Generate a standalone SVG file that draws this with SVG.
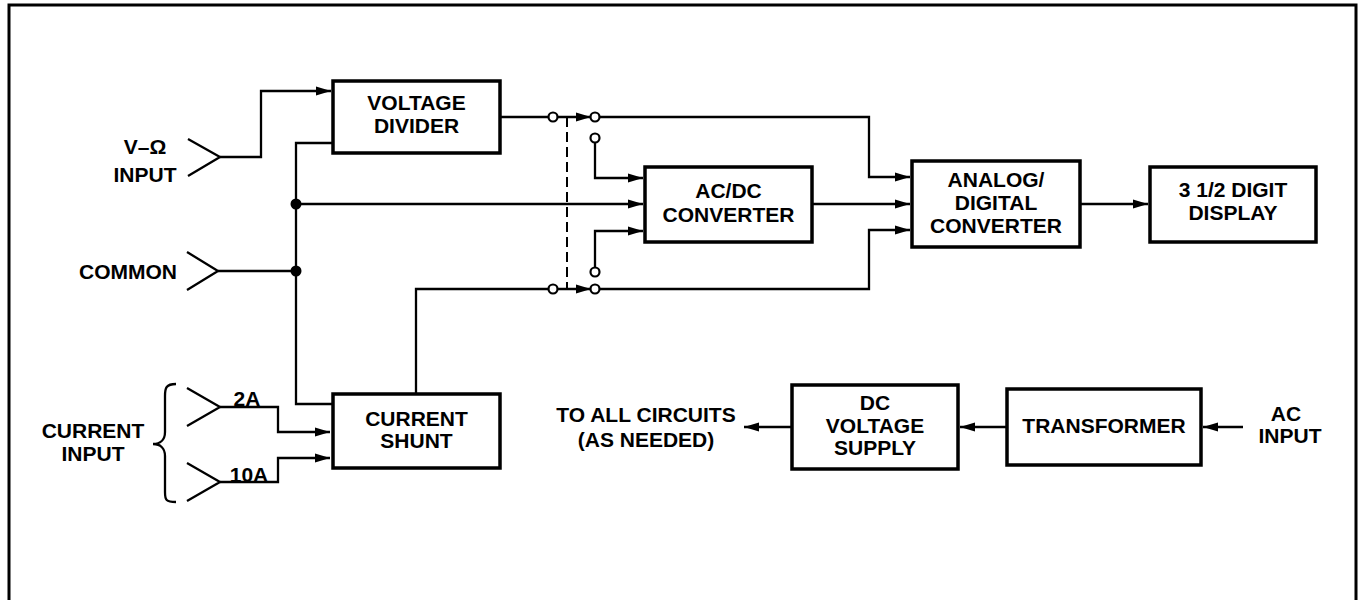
<svg xmlns="http://www.w3.org/2000/svg" width="1358" height="600" viewBox="0 0 1358 600">
<style>
.box{fill:#fff;stroke:#000;stroke-width:3.5}
.w{fill:none;stroke:#000;stroke-width:2.3}
.t{font-family:"Liberation Sans",Arial,Helvetica,sans-serif;font-weight:bold;font-size:21px;fill:#000;text-anchor:middle}
.sw{fill:#fff;stroke:#000;stroke-width:2.2}
.dot{fill:#000}
</style>
<defs>
<marker id="a" markerUnits="userSpaceOnUse" markerWidth="16" markerHeight="12" refX="15" refY="6" orient="auto">
<path d="M0,1.5 L15,6 L0,10.5 Z" fill="#000"/>
</marker>
</defs>
<rect width="1358" height="600" fill="#fff"/>
<path d="M9,600 V5 H1356 V600" fill="none" stroke="#000" stroke-width="3"/>

<g id="connectors">
<path class="w" d="M220,157 H261 V91 H331" marker-end="url(#a)"/>
<path class="w" d="M333,143 H296 V404 H333"/>
<path class="w" d="M218,271 H296"/>
<path class="w" d="M296,204 H643" marker-end="url(#a)"/>
<path class="w" d="M500,117 H549"/>
<path class="w" d="M599,117 H869 V177 H910" marker-end="url(#a)"/>
<path class="w" d="M595,142 V178 H643" marker-end="url(#a)"/>
<path class="w" d="M595,268 V231 H643" marker-end="url(#a)"/>
<path class="w" d="M599,289 H869 V230 H910" marker-end="url(#a)"/>
<path class="w" d="M416,394 V289 H549"/>
<path class="w" d="M812,204 H910" marker-end="url(#a)"/>
<path class="w" d="M1080,204 H1148" marker-end="url(#a)"/>
<path class="w" d="M557,117 H591" marker-end="url(#a)"/>
<path class="w" d="M557,289 H591" marker-end="url(#a)"/>
<path d="M567,117 V290" fill="none" stroke="#000" stroke-width="2" stroke-dasharray="10,5"/>
<path class="w" d="M220,407 H278 V432 H330" marker-end="url(#a)"/>
<path class="w" d="M220,482 H278 V458 H330" marker-end="url(#a)"/>
<path class="w" d="M792,427 H744" marker-end="url(#a)"/>
<path class="w" d="M1007,427 H960" marker-end="url(#a)"/>
<path class="w" d="M1243,427 H1203" marker-end="url(#a)"/>
</g>

<g id="contacts">
<circle class="sw" cx="553" cy="117" r="4.5"/>
<circle class="sw" cx="595" cy="117" r="4.5"/>
<circle class="sw" cx="595" cy="138" r="4.5"/>
<circle class="sw" cx="595" cy="272" r="4.5"/>
<circle class="sw" cx="553" cy="289" r="4.5"/>
<circle class="sw" cx="595" cy="289" r="4.5"/>
<circle class="dot" cx="296" cy="204" r="5.5"/>
<circle class="dot" cx="296" cy="271" r="5.5"/>
</g>

<g id="v-input">
<path class="w" d="M188,139 L220,157 L188,176"/>
<text class="t" x="145" y="154">V–Ω</text>
<text class="t" x="145" y="182">INPUT</text>
</g>
<g id="common">
<path class="w" d="M187,252 L218,271 L187,290"/>
<text class="t" x="128" y="279">COMMON</text>
</g>
<g id="current-input">
<path class="w" d="M187,388 L220,407 L187,426"/>
<path class="w" d="M187,463 L220,482 L187,501"/>
<path class="w" d="M176,384 C166,384 165,388 165,396 V432 C165,440 160,444 153,444 C160,444 165,448 165,456 V492 C165,500 166,502 176,502"/>
<text class="t" x="93" y="438">CURRENT</text>
<text class="t" x="93" y="461">INPUT</text>
<text class="t" x="247" y="406">2A</text>
<text class="t" x="249" y="482">10A</text>
</g>

<g id="voltage-divider">
<rect class="box" x="333" y="81" width="167" height="72"/>
<text class="t" x="416.5" y="110">VOLTAGE</text>
<text class="t" x="416.5" y="133">DIVIDER</text>
</g>
<g id="acdc">
<rect class="box" x="645" y="167" width="167" height="75"/>
<text class="t" x="728.5" y="198">AC/DC</text>
<text class="t" x="728.5" y="222">CONVERTER</text>
</g>
<g id="adc">
<rect class="box" x="912" y="161" width="168" height="86"/>
<text class="t" x="996" y="187">ANALOG/</text>
<text class="t" x="996" y="210">DIGITAL</text>
<text class="t" x="996" y="233">CONVERTER</text>
</g>
<g id="display">
<rect class="box" x="1150" y="167" width="166" height="75"/>
<text class="t" x="1233" y="197">3 1/2 DIGIT</text>
<text class="t" x="1233" y="220">DISPLAY</text>
</g>
<g id="current-shunt">
<rect class="box" x="333" y="394" width="167" height="74"/>
<text class="t" x="416.5" y="426">CURRENT</text>
<text class="t" x="416.5" y="448">SHUNT</text>
</g>
<g id="to-all">
<text class="t" x="646" y="422">TO ALL CIRCUITS</text>
<text class="t" x="646" y="447">(AS NEEDED)</text>
</g>
<g id="dc-supply">
<rect class="box" x="792" y="385" width="166" height="84"/>
<text class="t" x="875" y="410">DC</text>
<text class="t" x="875" y="433">VOLTAGE</text>
<text class="t" x="875" y="455">SUPPLY</text>
</g>
<g id="transformer">
<rect class="box" x="1007" y="389" width="194" height="76"/>
<text class="t" x="1104" y="433">TRANSFORMER</text>
</g>
<g id="ac-input">
<text class="t" x="1286" y="421">AC</text>
<text class="t" x="1290" y="443">INPUT</text>
</g>
</svg>
